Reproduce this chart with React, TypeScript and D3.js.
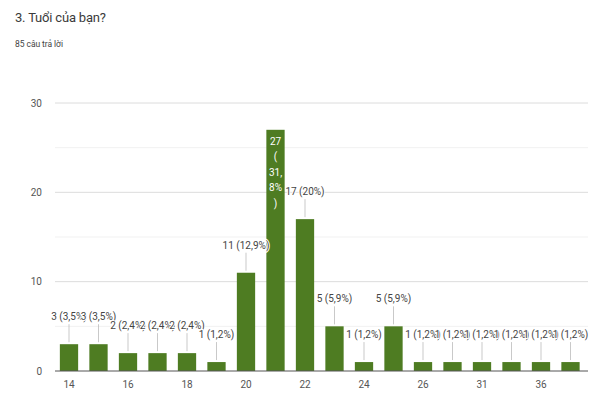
import React from "react";
import * as d3 from "d3";

const title = "3. Tuổi của bạn?";
const subtitle = "85 câu trả lời";
const categories = ["14","15","16","17","18","19","20","21","22","23","24","25","26","29","31","35","36","40"];
const values = [3,3,2,2,2,1,11,27,17,5,1,5,1,1,1,1,1,1];
const total = 85;
const yTicks = [0,10,20,30];
const yMinorTicks = [5,15,25];

const W = 596, H = 403;
const BAR = "#4e7c22";

function pct(v: number) {
  const p = Math.round((v / total) * 1000) / 10;
  return (Number.isInteger(p) ? p.toFixed(0) : p.toFixed(1)).replace(".", ",") + "%";
}

export default function App() {
  const x = d3.scaleBand<string>().domain(categories).range([54.25, 585.25]).paddingInner(0.38).paddingOuter(0.19);
  const y = d3.scaleLinear().domain([0, 30]).range([371, 103]);
  const font = "Roboto, 'Noto Sans', sans-serif";
  const maxV = d3.max(values)!;
  return (
    <svg width={W} height={H} style={{ position: "absolute", left: 0, top: 0, background: "#fff" }}>
      <rect width={W} height={H} fill="#fff" />
      <text x={15} y={22} fontSize={13} fill="#3a3a3a" fontFamily={font} textLength={91}>{title}</text>
      <text x={15} y={47} fontSize={8.5} fill="#444" fontFamily={font} textLength={48}>{subtitle}</text>
      {yMinorTicks.map(t => (
        <line key={"m" + t} x1={55} x2={588} y1={y(t)} y2={y(t)} stroke="#f1f1f1" strokeWidth={1} />
      ))}
      {yTicks.filter(t => t !== 0).map(t => (
        <line key={"g" + t} x1={55} x2={588} y1={y(t)} y2={y(t)} stroke="#dcdcdc" strokeWidth={1} />
      ))}
      {yTicks.map(t => (
        <text key={"yt" + t} x={42} y={y(t) + 3.5} fontSize={10} fill="#555" textAnchor="end" fontFamily={font}>{t}</text>
      ))}
      {values.map((v, i) => {
        const c = categories[i];
        const top = y(v);
        return <rect key={"b" + c} x={x(c)!} y={top} width={x.bandwidth()} height={y(0) - top} fill={BAR} />;
      })}
      {values.map((v, i) => {
        const c = categories[i];
        const cx = x(c)! + x.bandwidth() / 2;
        const top = y(v);
        if (v === maxV) {
          const parts = pct(v).split(",");
          const lines = [String(v), "(", parts[0] + ",", parts[1] ?? "", ")"];
          return (
            <g key={"l" + c}>
              {lines.map((l, k) => (
                <text key={k} x={cx} y={top + 15 + k * 15.5} fontSize={10} fill="#fff" textAnchor="middle" fontFamily={font}>{l}</text>
              ))}
            </g>
          );
        }
        return (
          <g key={"l" + c}>
            <line x1={cx} x2={cx} y1={top - 20} y2={top - 2} stroke="#bbb" strokeWidth={0.8} />
            <text x={cx} y={top - 24} fontSize={10} fill="#444" textAnchor="middle" fontFamily={font}
              stroke="#fff" strokeWidth={2} paintOrder="stroke">{`${v} (${pct(v)})`}</text>
          </g>
        );
      })}
      <line x1={55} x2={588} y1={y(0)} y2={y(0)} stroke="#555" strokeWidth={1} />
      {categories.map((c, i) => i % 2 === 0 ? (
        <text key={"xt" + c} x={x(c)! + x.bandwidth() / 2} y={388} fontSize={10} fill="#555" textAnchor="middle" fontFamily={font}>{c}</text>
      ) : null)}
    </svg>
  );
}
